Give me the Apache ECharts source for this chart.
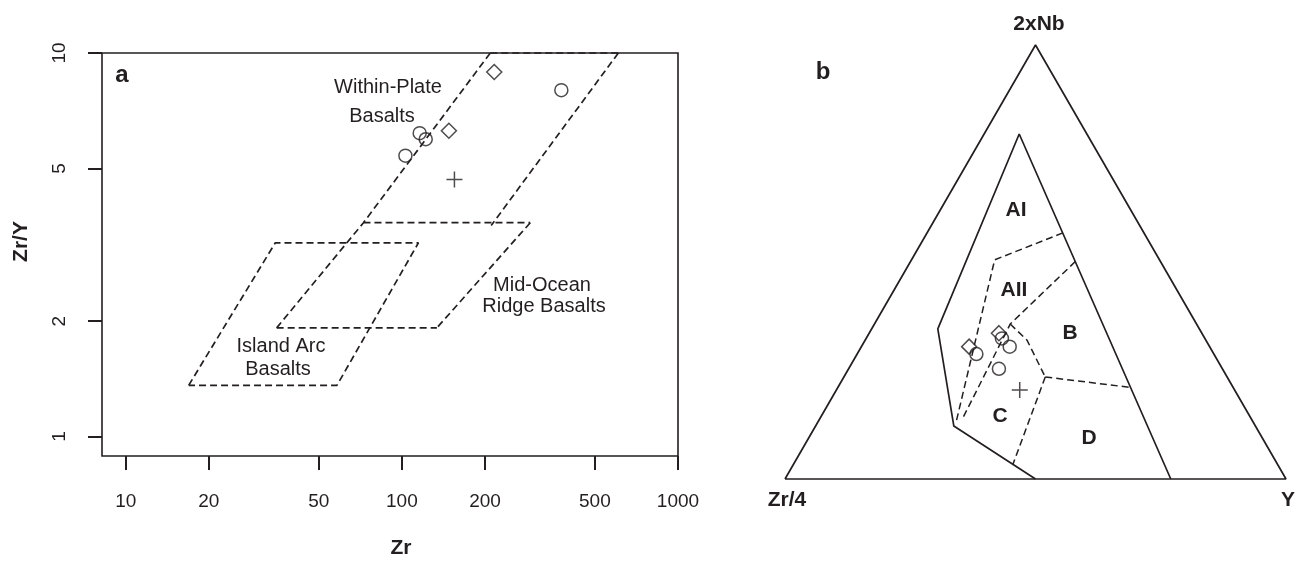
<!DOCTYPE html>
<html>
<head>
<meta charset="utf-8">
<script src="https://cdn.jsdelivr.net/npm/echarts@6/dist/echarts.min.js"></script>
<style>
html,body{margin:0;padding:0;background:#fff;}
#c{width:1297px;height:564px;}
</style>
</head>
<body>
<div id="c"></div>
<script>
// ---------- Panel a : Zr vs Zr/Y (log-log) ----------
const zrTicks = [10, 20, 50, 100, 200, 500, 1000];
const ratioTicks = [1, 2, 5, 10];

// samples
const circleZr = [378, 116, 122, 103];
const circleZrY = [8.0, 6.18, 5.96, 5.40];
const diamondZr = [216, 148];
const diamondZrY = [8.92, 6.27];
const plusZr = [155];
const plusZrY = [4.68];

// field boundaries (dashed)
const leftBoundZr = [35.2, 72.6, 209];
const leftBoundZrY = [1.92, 3.61, 10];
const topBoundZr = [209, 608];
const topBoundZrY = [10, 10];
const wpbRightZr = [608, 210.6];
const wpbRightZrY = [10, 3.55];
const midBoundZr = [72.6, 291.7];
const midBoundZrY = [3.61, 3.61];
const morbRightZr = [291.7, 133.9];
const morbRightZrY = [3.61, 1.92];
const morbBaseZr = [35.2, 133.9];
const morbBaseZrY = [1.92, 1.92];
const iabZr = [16.9, 34.8, 114.8, 58.2, 16.9];
const iabZrY = [1.36, 3.20, 3.20, 1.36, 1.36];

// ---------- Panel b : ternary 2xNb - Zr/4 - Y  (values: [Zr/4, 2xNb, Y] in %) ----------
const triOuter = [[100, 0, 0], [0, 0, 100], [0, 100, 0], [100, 0, 0]];
const fieldOuter = [[50, 0, 50], [60.2, 12.2, 27.6], [52.2, 34.6, 13.2], [13.5, 79.5, 7.0], [23, 0, 77]];
const lineAIAII = [[16.2, 56.7, 27.1], [32.9, 50.5, 16.6], [59.3, 13.1, 27.6]];
const lineAIIB = [[17.0, 50.1, 32.9], [37.2, 35.7, 27.1], [57.9, 13.6, 28.5]];
const lineCTop = [[37.2, 35.7, 27.1], [35.7, 32.0, 32.3], [36.3, 23.5, 40.2]];
const lineBD = [[36.3, 23.5, 40.2], [20.5, 21.1, 58.4]];
const lineCD = [[36.3, 23.5, 40.2], [52.8, 3.4, 43.8]];
const ternDiamonds = [[48.0, 30.5, 21.5], [40.5, 33.6, 25.9]];
const ternCircles = [[47.4, 28.8, 23.8], [40.5, 32.4, 27.1], [39.9, 30.5, 29.6], [44.6, 25.4, 30.0]];
const ternPlus = [[42.9, 20.5, 36.6]];

// ---------- build ----------
const ink = '#231f20';
const FONT = "'Liberation Sans', Arial, Helvetica, sans-serif";
const L = Math.log10;
const pairLog = (xs, ys) => xs.map((x, i) => [L(x), L(ys[i])]);
function tern(p) {
  const s = p[0] + p[1] + p[2];
  const nb = p[1] / s, y = p[2] / s;
  return [y + nb / 2, nb * Math.sqrt(3) / 2];
}
function lineSer(data, idx, dashed, width) {
  return {
    type: 'line', xAxisIndex: idx, yAxisIndex: idx, data: data,
    showSymbol: false, symbol: 'none', clip: false, silent: true,
    lineStyle: { color: ink, width: width || 1.7, type: dashed ? [7, 4] : 'solid' },
    z: 2
  };
}
const hollow = { color: 'rgba(0,0,0,0)', borderColor: ink, borderWidth: 1.5 };
function scatterSer(data, idx, symbol, size) {
  return {
    type: 'scatter', xAxisIndex: idx, yAxisIndex: idx, data: data,
    symbol: symbol, symbolSize: size, itemStyle: hollow, clip: false, z: 3
  };
}
const plusPath = 'path://M8,0 L8,16 M0,8 L16,8';

const xTickVals = zrTicks.map(L);
const yTickVals = ratioTicks.map(L);

const series = [
  lineSer(pairLog(leftBoundZr, leftBoundZrY), 0, true),
  lineSer(pairLog(topBoundZr, topBoundZrY), 0, true),
  lineSer(pairLog(wpbRightZr, wpbRightZrY), 0, true),
  lineSer(pairLog(midBoundZr, midBoundZrY), 0, true),
  lineSer(pairLog(morbRightZr, morbRightZrY), 0, true),
  lineSer(pairLog(morbBaseZr, morbBaseZrY), 0, true),
  lineSer(pairLog(iabZr, iabZrY), 0, true),
  scatterSer(pairLog(circleZr, circleZrY), 0, 'circle', 13),
  scatterSer(pairLog(diamondZr, diamondZrY), 0, 'diamond', 15),
  scatterSer(pairLog(plusZr, plusZrY), 0, plusPath, 16),

  lineSer(triOuter.map(tern), 1, false, 1.7),
  lineSer(fieldOuter.map(tern), 1, false, 1.7),
  lineSer(lineAIAII.map(tern), 1, true, 1.5),
  lineSer(lineAIIB.map(tern), 1, true, 1.5),
  lineSer(lineCTop.map(tern), 1, true, 1.5),
  lineSer(lineBD.map(tern), 1, true, 1.5),
  lineSer(lineCD.map(tern), 1, true, 1.5),
  scatterSer(ternDiamonds.map(tern), 1, 'diamond', 15),
  scatterSer(ternCircles.map(tern), 1, 'circle', 13),
  scatterSer(ternPlus.map(tern), 1, plusPath, 16)
];

function txt(x, y, s, size, bold) {
  return {
    type: 'text', x: x, y: y, silent: true,
    style: { text: s, fill: ink, font: (bold ? 'bold ' : '') + size + 'px ' + FONT, textAlign: 'center', textVerticalAlign: 'middle' }
  };
}

const option = {
  animation: false,
  backgroundColor: '#fff',
  textStyle: { fontFamily: FONT, color: ink },
  grid: [
    { left: 102, top: 53, width: 576, height: 406, show: true, borderColor: ink, borderWidth: 1.6, backgroundColor: 'transparent' },
    { left: 785, top: 45, width: 501, height: 434, show: false }
  ],
  xAxis: [
    {
      type: 'value', gridIndex: 0, min: 0.914, max: 3.0,
      name: 'Zr', nameLocation: 'middle', nameGap: 82,
      nameTextStyle: { fontSize: 21, fontWeight: 'bold', color: ink, padding: [0, 0, 0, 22] },
      axisLine: { show: false, onZero: false },
      axisTick: { show: true, customValues: xTickVals, length: 14, lineStyle: { color: ink, width: 2 } },
      axisLabel: { customValues: xTickVals, margin: 36, fontSize: 19, color: ink, formatter: v => String(Math.round(Math.pow(10, v))) },
      splitLine: { show: false }
    },
    {
      type: 'value', gridIndex: 1, min: 0, max: 1, show: false
    }
  ],
  yAxis: [
    {
      type: 'value', gridIndex: 0, min: -0.0507, max: 1.0,
      name: 'Zr/Y', nameLocation: 'middle', nameGap: 70, nameRotate: 90,
      nameTextStyle: { fontSize: 21, fontWeight: 'bold', color: ink, padding: [0, 0, 0, 26] },
      axisLine: { show: false, onZero: false },
      axisTick: { show: true, customValues: yTickVals, length: 14, lineStyle: { color: ink, width: 2 } },
      axisLabel: { customValues: yTickVals, margin: 33, rotate: 90, fontSize: 19, color: ink, formatter: v => String(Math.round(Math.pow(10, v))) },
      splitLine: { show: false }
    },
    {
      type: 'value', gridIndex: 1, min: 0, max: Math.sqrt(3) / 2, show: false
    }
  ],
  graphic: [
    txt(122, 75, 'a', 24, true),
    txt(388, 87, 'Within-Plate', 20, false),
    txt(382, 116, 'Basalts', 20, false),
    txt(542, 285, 'Mid-Ocean', 20, false),
    txt(544, 306, 'Ridge Basalts', 20, false),
    txt(281, 346, 'Island Arc', 20, false),
    txt(278, 369, 'Basalts', 20, false),

    txt(823, 72, 'b', 24, true),
    txt(1039, 24, '2xNb', 21, true),
    txt(787, 500, 'Zr/4', 21, true),
    txt(1288, 500, 'Y', 21, true),
    txt(1016, 210, 'AI', 21, true),
    txt(1014, 290, 'AII', 21, true),
    txt(1070, 333, 'B', 21, true),
    txt(1000, 416, 'C', 21, true),
    txt(1089, 438, 'D', 21, true)
  ],
  series: series
};

const chart = echarts.init(document.getElementById('c'), null, { renderer: 'canvas' });
chart.setOption(option);
</script>
</body>
</html>
